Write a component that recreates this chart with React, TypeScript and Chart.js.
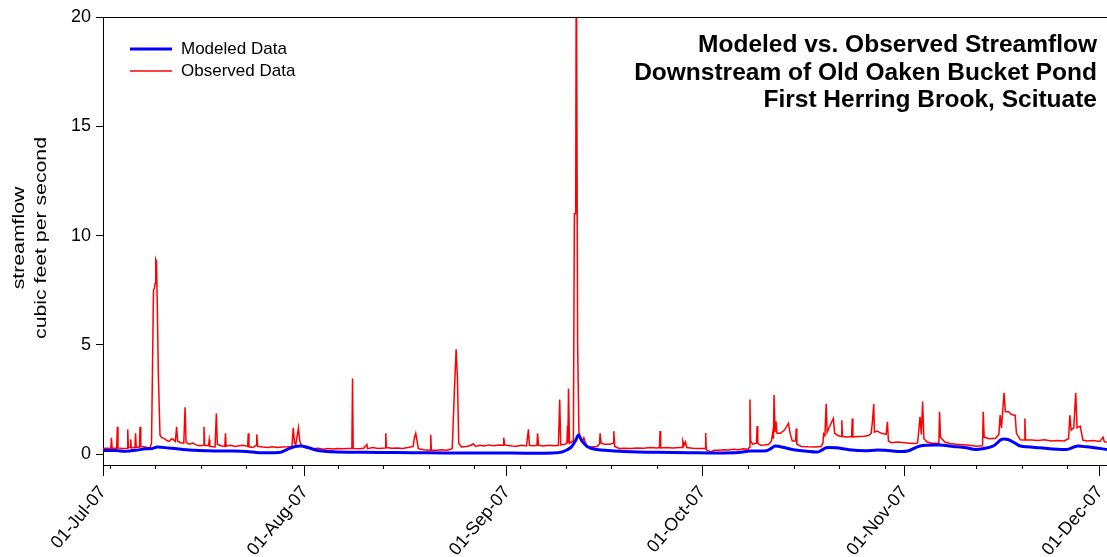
import React, { useEffect, useRef } from "react";
import { Chart, registerables } from "chart.js";

Chart.register(...registerables);

// ---------- DATA (x = days since 01-Jul-07, y = cubic feet per second) ----------
const monthTickDays = [0, 31, 62, 92, 123, 153];
const monthTickLabels = ["01-Jul-07", "01-Aug-07", "01-Sep-07", "01-Oct-07", "01-Nov-07", "01-Dec-07"];
const weekTickDays = [1, 8, 15, 22, 29, 36, 43, 50, 57, 64, 71, 78, 85, 92, 99, 106, 113, 120, 127, 134, 141, 148];
const yTickValues = [0, 5, 10, 15, 20];
const seriesNames = ["Modeled Data", "Observed Data"];
const titleLines = ["Modeled vs. Observed Streamflow", "Downstream of Old Oaken Bucket Pond", "First Herring Brook, Scituate"];
const yTitleLines = ["streamflow", "cubic feet per second"];

const modeled: [number, number][] = [
  [0, 0.16], [2, 0.16], [3.5, 0.13], [5, 0.17], [6.5, 0.24], [7.5, 0.25], [8.3, 0.32], [10, 0.28],
  [12, 0.22], [14, 0.17], [16, 0.15], [18, 0.14], [20, 0.14], [22, 0.12], [24, 0.06], [26, 0.06],
  [27.3, 0.08], [28.3, 0.22], [29.5, 0.35], [30.5, 0.37], [31.5, 0.3], [32.5, 0.2], [34, 0.13],
  [36, 0.1], [40, 0.08], [45, 0.07], [50, 0.06], [55, 0.05], [60, 0.05], [65, 0.04], [69, 0.05],
  [70.5, 0.1], [71.8, 0.3], [72.5, 0.6], [73, 0.87], [73.5, 0.6], [74.3, 0.35], [75.5, 0.22],
  [77, 0.17], [80, 0.12], [85, 0.08], [90, 0.06], [94, 0.05], [97.5, 0.07], [99.3, 0.14],
  [101.8, 0.15], [102.5, 0.25], [103.2, 0.37], [104.5, 0.3], [106, 0.2], [108, 0.13], [109.8, 0.1],
  [111, 0.29], [112.5, 0.29], [114.5, 0.2], [117, 0.15], [118.5, 0.18], [120, 0.17], [122, 0.12],
  [123.5, 0.14], [125.4, 0.37], [128.4, 0.41], [130.5, 0.35], [132.5, 0.29], [134, 0.21],
  [136.6, 0.36], [137.9, 0.67], [138.9, 0.67], [140, 0.5], [140.8, 0.37], [143.8, 0.29],
  [147.9, 0.21], [149.4, 0.36], [151, 0.33], [154.2, 0.21],
];

const observedJul: [number, number][] = [
  [0, 0.25], [0.5, 0.27], [1.2, 0.26], [1.3, 0.75], [1.4, 0.28], [2.1, 0.27], [2.2, 1.25], [2.3, 0.28],
  [3.0, 0.25], [3.7, 0.27], [3.8, 1.13], [3.9, 0.3], [4.2, 0.3], [4.25, 0.67], [4.35, 0.28], [4.9, 0.3],
  [5.0, 0.95], [5.1, 0.3], [5.6, 0.32], [5.68, 1.25], [5.8, 0.35], [6.3, 0.33], [6.8, 0.3], [7.2, 0.28],
  [7.45, 0.5], [7.75, 7.5], [7.9, 7.6], [8.0, 7.8], [8.1, 8.9], [8.22, 8.8], [8.35, 6.5], [8.49, 3.7],
  [8.75, 0.87], [9.0, 0.75], [9.4, 0.72], [9.8, 0.62], [10.2, 0.58], [10.5, 0.7], [10.8, 0.66],
  [11.1, 0.58], [11.3, 1.25], [11.45, 0.6], [11.9, 0.52], [12.4, 0.5], [12.6, 2.14], [12.75, 0.55],
  [13.2, 0.45], [13.8, 0.5], [14.3, 0.42], [14.8, 0.38], [15.4, 0.4], [15.5, 1.25], [15.6, 0.4],
  [16.2, 0.38], [16.3, 0.65], [16.4, 0.35], [17.2, 0.33], [17.4, 1.86], [17.55, 0.45], [18.1, 0.38],
  [18.7, 0.35], [18.8, 0.95], [18.9, 0.36], [19.6, 0.4], [20.3, 0.35], [20.9, 0.38], [21.5, 0.4],
  [22.2, 0.35], [22.3, 0.95], [22.4, 0.33], [23.0, 0.3], [23.5, 0.4], [23.6, 0.9], [23.75, 0.35],
  [24.5, 0.32], [25.3, 0.3], [26.0, 0.33], [26.8, 0.3], [27.5, 0.32], [28.3, 0.33], [29.0, 0.35],
  [29.2, 1.2], [29.4, 0.5], [29.6, 0.45], [30.0, 1.2], [30.2, 0.6], [30.5, 0.38], [31.0, 0.3],
];

const observedAug: [number, number][] = [
  [31.5, 0.26], [32.2, 0.24], [33.0, 0.27], [33.8, 0.22], [34.5, 0.25], [35.3, 0.23], [36.0, 0.26],
  [36.8, 0.24], [37.5, 0.25], [38.2, 0.25], [38.3, 3.46], [38.4, 0.26], [39.2, 0.24], [40.0, 0.27],
  [40.5, 0.44], [40.6, 0.25], [41.4, 0.3], [42.2, 0.26], [43.3, 0.28], [43.4, 0.95], [43.5, 0.3],
  [44.3, 0.27], [45.2, 0.28], [46.0, 0.26], [46.8, 0.3], [47.6, 0.35], [47.8, 0.75], [48.0, 0.95],
  [48.2, 0.6], [48.4, 0.25], [49.2, 0.2], [50.2, 0.18], [50.3, 0.88], [50.4, 0.18], [51.2, 0.17],
  [52.0, 0.2], [52.8, 0.18], [53.6, 0.25], [53.95, 3.0], [54.2, 4.79], [54.4, 3.5], [54.6, 0.5],
  [55.0, 0.33], [55.8, 0.35], [56.5, 0.4], [56.8, 0.47], [57.2, 0.35], [57.8, 0.4], [58.5, 0.37],
  [59.2, 0.42], [60.0, 0.38], [60.8, 0.42], [61.4, 0.4], [61.5, 0.75], [61.65, 0.42], [62.0, 0.4],
];

const observedSep: [number, number][] = [
  [62.8, 0.37], [63.5, 0.36], [64.2, 0.4], [65.0, 0.37], [65.3, 1.13], [65.45, 0.4], [66.0, 0.38],
  [66.6, 0.4], [66.7, 0.95], [66.85, 0.4], [67.6, 0.37], [68.4, 0.4], [69.2, 0.38], [69.9, 0.4],
  [70.1, 2.5], [70.25, 0.42], [70.9, 0.45], [71.2, 0.5], [71.3, 1.3], [71.35, 0.5], [71.45, 3.0],
  [71.6, 0.5], [72.2, 0.6], [72.35, 11.0], [72.55, 11.0], [72.65, 24.0], [72.85, 5.0], [73.05, 1.0],
  [73.3, 0.65], [73.6, 0.62], [73.8, 0.75], [73.95, 0.6], [74.3, 0.35], [75.0, 0.32], [75.8, 0.35],
  [76.2, 0.45], [76.3, 0.95], [76.45, 0.5], [77.0, 0.45], [77.8, 0.45], [78.3, 0.5], [78.4, 1.05],
  [78.55, 0.35], [79.3, 0.25], [80.0, 0.27], [81.0, 0.26], [82.0, 0.28], [83.0, 0.27], [84.0, 0.3],
  [85.0, 0.28], [85.4, 0.3], [85.5, 1.05], [85.6, 0.28], [86.5, 0.3], [87.5, 0.28], [88.5, 0.3],
  [88.9, 0.3], [89.0, 0.6], [89.2, 0.4], [89.4, 0.55], [89.6, 0.3], [90.5, 0.27], [91.3, 0.26],
  [92.0, 0.25],
];

const observedOct: [number, number][] = [
  [92.4, 0.25], [92.5, 0.97], [92.6, 0.2], [92.9, 0.15], [93.3, 0.1], [93.8, 0.17], [94.5, 0.18],
  [95.3, 0.2], [96.0, 0.19], [96.8, 0.22], [97.5, 0.2], [98.3, 0.24], [99.0, 0.22], [99.2, 0.3],
  [99.3, 2.5], [99.4, 0.6], [99.7, 0.45], [100.3, 0.5], [100.4, 1.28], [100.5, 0.5], [100.9, 0.4],
  [101.5, 0.42], [102.2, 0.45], [102.6, 0.6], [102.8, 1.0], [102.9, 0.7], [103.0, 2.7], [103.15, 1.0],
  [103.3, 1.5], [103.45, 0.95], [104.0, 0.95], [104.6, 1.1], [105.2, 1.4], [105.5, 0.9], [105.8, 0.6],
  [106.3, 0.6], [106.4, 1.17], [106.5, 0.45], [107.2, 0.35], [108.2, 0.33], [109.2, 0.32],
  [110.2, 0.35], [110.5, 0.5], [110.6, 0.93], [110.8, 0.85], [111.0, 2.3], [111.15, 1.0],
  [111.5, 1.25], [112.1, 1.63], [112.3, 0.95], [112.8, 0.85], [113.3, 0.8], [113.4, 1.55],
  [113.5, 0.8], [114.2, 0.78], [114.9, 0.8], [115.0, 1.63], [115.1, 0.78], [116.0, 0.8],
  [116.8, 0.82], [117.5, 0.85], [117.9, 0.95], [118.1, 1.5], [118.3, 2.29], [118.4, 1.0],
  [118.8, 1.05], [119.5, 0.95], [120.2, 0.9], [120.4, 1.48], [120.55, 0.6], [121.0, 0.52],
  [122.0, 0.55], [123.0, 0.52],
];

const observedNov: [number, number][] = [
  [123.8, 0.5], [124.5, 0.48], [125.0, 0.5], [125.1, 0.72], [125.4, 1.7], [125.6, 0.9], [125.8, 2.4],
  [126.0, 0.7], [126.5, 0.55], [127.2, 0.5], [128.3, 0.5], [128.4, 1.94], [128.55, 0.77], [129.2, 0.55],
  [130.0, 0.48], [131.0, 0.45], [132.0, 0.43], [133.0, 0.4], [134.0, 0.36], [135.0, 0.38],
  [135.1, 1.94], [135.25, 0.77], [136.0, 0.7], [137.0, 0.72], [137.5, 0.9], [137.7, 1.78],
  [137.9, 1.2], [138.3, 2.8], [138.5, 1.94], [139.0, 1.94], [139.5, 1.8], [140.0, 1.78],
  [140.2, 0.95], [140.8, 0.65], [141.4, 0.64], [141.5, 1.63], [141.6, 0.64], [142.5, 0.64],
  [143.5, 0.62], [144.5, 0.66], [145.5, 0.6], [146.5, 0.62], [147.5, 0.6], [148.2, 0.7],
  [148.4, 1.78], [148.6, 1.1], [149.0, 1.2], [149.3, 2.8], [149.5, 1.2], [150.0, 1.28],
  [150.4, 0.64], [151.0, 0.6], [152.0, 0.62], [153.0, 0.58], [153.5, 0.77], [153.7, 0.56],
  [154.2, 0.55],
];

const X_MAX = 154.1;
const Y_MIN = -0.5;
const Y_MAX = 20;
const FONT = "'Liberation Sans', Arial, Helvetica, sans-serif";

const toPoints = (arr: [number, number][]) => arr.map(([x, y]) => ({ x, y }));

const decorPlugin = {
  id: "decor",
  afterDraw(chart: any) {
    const { ctx, chartArea, scales } = chart;
    const xs = scales.x;
    ctx.save();
    // top frame line
    ctx.strokeStyle = "#000";
    ctx.lineWidth = 1;
    ctx.beginPath();
    ctx.moveTo(chartArea.left, chartArea.top + 0.5);
    ctx.lineTo(chartArea.right, chartArea.top + 0.5);
    ctx.stroke();
    // weekly minor ticks
    ctx.beginPath();
    weekTickDays.forEach((d) => {
      const px = Math.round(xs.getPixelForValue(d)) + 0.5;
      ctx.moveTo(px, chartArea.bottom);
      ctx.lineTo(px, chartArea.bottom + 4);
    });
    ctx.stroke();

    // legend
    const lx = chartArea.left + 27;
    const colors = ["#0000ff", "#ff0000"];
    const widths = [3, 1.5];
    const ys = [49, 71];
    ctx.font = `17px ${FONT}`;
    ctx.textBaseline = "middle";
    ctx.textAlign = "left";
    seriesNames.forEach((name, i) => {
      ctx.strokeStyle = colors[i];
      ctx.lineWidth = widths[i];
      ctx.beginPath();
      ctx.moveTo(lx, ys[i]);
      ctx.lineTo(lx + 42, ys[i]);
      ctx.stroke();
      ctx.fillStyle = "#000";
      ctx.fillText(name, lx + 51, ys[i]);
    });

    // title (right aligned)
    ctx.font = `bold 24.5px ${FONT}`;
    ctx.textAlign = "right";
    ctx.fillStyle = "#000";
    const tys = [45, 73, 100];
    titleLines.forEach((t, i) => ctx.fillText(t, 1097, tys[i]));

    // y-axis title (rotated, two lines)
    ctx.font = `17px ${FONT}`;
    ctx.textAlign = "center";
    ctx.textBaseline = "alphabetic";
    const bx = [24, 46];
    yTitleLines.forEach((t, i) => {
      ctx.save();
      ctx.translate(bx[i], 238);
      ctx.rotate(-Math.PI / 2);
      ctx.scale(1.25, 1);
      ctx.fillText(t, 0, 0);
      ctx.restore();
    });
    ctx.restore();
  },
};

export default function App() {
  const canvasRef = useRef<HTMLCanvasElement | null>(null);

  useEffect(() => {
    if (!canvasRef.current) return;
    const observed = [...observedJul, ...observedAug, ...observedSep, ...observedOct, ...observedNov];
    const chart = new Chart(canvasRef.current, {
      type: "line",
      data: {
        datasets: [
          {
            label: seriesNames[0],
            data: toPoints(modeled),
            borderColor: "#0000ff",
            backgroundColor: "#0000ff",
            borderWidth: 3,
            pointRadius: 0,
            tension: 0.3,
            order: 0,
          },
          {
            label: seriesNames[1],
            data: toPoints(observed),
            borderColor: "#ff0000",
            backgroundColor: "#ff0000",
            borderWidth: 1.5,
            pointRadius: 0,
            tension: 0,
            order: 1,
          },
        ],
      },
      options: {
        responsive: false,
        animation: false,
        layout: { padding: { top: 17, left: 0, right: 0, bottom: 0 } },
        plugins: { legend: { display: false }, tooltip: { enabled: false }, title: { display: false } },
        scales: {
          x: {
            type: "linear",
            min: 0,
            max: X_MAX,
            afterBuildTicks: (s: any) => {
              s.ticks = monthTickDays.map((v) => ({ value: v }));
            },
            afterFit: (s: any) => {
              s.height = 92;
              s.paddingLeft = 0;
              s.paddingRight = 0;
            },
            ticks: {
              autoSkip: false,
              minRotation: 50,
              maxRotation: 50,
              padding: 6,
              color: "#000",
              font: { family: FONT, size: 18 },
              callback: (_v: any, i: number) => monthTickLabels[i],
            },
            grid: { drawOnChartArea: false, tickLength: 11, color: "#000", lineWidth: 1 },
            border: { display: true, color: "#000", width: 1 },
          },
          y: {
            type: "linear",
            min: Y_MIN,
            max: Y_MAX,
            afterBuildTicks: (s: any) => {
              s.ticks = yTickValues.map((v) => ({ value: v }));
            },
            afterFit: (s: any) => {
              s.width = 103;
              s.paddingTop = 0;
              s.paddingBottom = 0;
            },
            ticks: {
              padding: 5,
              color: "#000",
              font: { family: FONT, size: 18 },
              callback: (v: any) => String(v),
            },
            grid: { drawOnChartArea: false, tickLength: 7, color: "#000", lineWidth: 1 },
            border: { display: true, color: "#000", width: 1 },
          },
        },
      },
      plugins: [decorPlugin],
    });
    return () => chart.destroy();
  }, []);

  return (
    <div style={{ position: "fixed", left: 0, top: 0, width: 1107, height: 557, background: "#fff" }}>
      <canvas ref={canvasRef} width={1107} height={557} style={{ width: 1107, height: 557 }} />
    </div>
  );
}
